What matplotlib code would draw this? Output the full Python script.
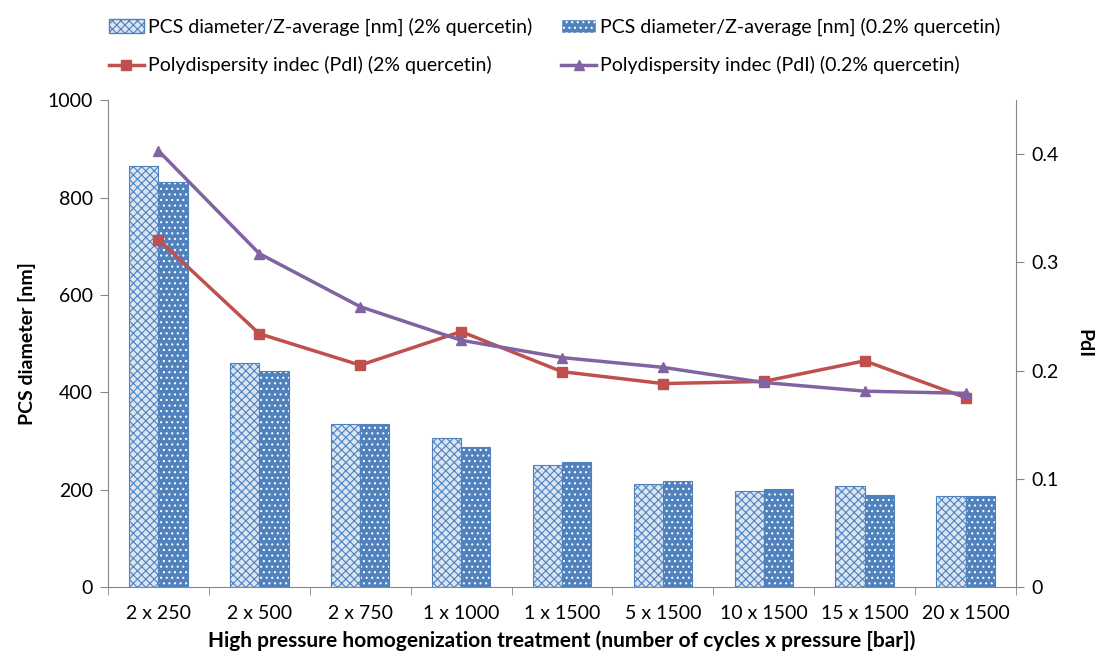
import matplotlib
matplotlib.use("Agg")
import matplotlib.pyplot as plt
import numpy as np
from matplotlib.patches import Patch
from matplotlib.lines import Line2D

plt.rcParams["font.family"] = ["Lato", "DejaVu Sans"]
plt.rcParams["hatch.linewidth"] = 0.8

categories = ["2 x 250", "2 x 500", "2 x 750", "1 x 1000", "1 x 1500",
              "5 x 1500", "10 x 1500", "15 x 1500", "20 x 1500"]
size_2pct = [864, 460, 335, 307, 250, 212, 197, 207, 187]
size_02pct = [832, 444, 335, 287, 256, 219, 201, 190, 187]
pdi_2pct = [0.321, 0.234, 0.205, 0.236, 0.199, 0.188, 0.190, 0.209, 0.175]
pdi_02pct = [0.403, 0.308, 0.259, 0.228, 0.212, 0.203, 0.189, 0.181, 0.179]

BLUE = "#4f81bd"
LIGHT = "#dbe5f1"
RED = "#c0504d"
PURPLE = "#8064a2"
GREY = "#868686"
FS = 14

fig = plt.figure(figsize=(11.02, 6.59), dpi=100)
ax = fig.add_axes([0.098, 0.109, 0.824, 0.739])
ax2 = ax.twinx()

x = np.arange(len(categories))
w = 0.29
# light bars: crosshatch in blue over pale fill
ax.bar(x - w / 2, size_2pct, w, color=LIGHT, edgecolor=BLUE, hatch="xxxx", lw=0.8, zorder=2)
# dark bars: blue with white dots
ax.bar(x + w / 2, size_02pct, w, color=BLUE, edgecolor="white", hatch="...", lw=0, zorder=2)
ax.bar(x + w / 2, size_02pct, w, fill=False, edgecolor=BLUE, lw=0.8, zorder=3)

ax2.plot(x, pdi_2pct, color=RED, lw=2.5, marker="s", ms=7, zorder=4)
ax2.plot(x, pdi_02pct, color=PURPLE, lw=2.5, marker="^", ms=7, zorder=4)

ax.set_xlim(-0.5, len(categories) - 0.5)
ax.set_ylim(0, 1000)
ax2.set_ylim(0, 0.4497)
ax.set_yticks(range(0, 1001, 200))
ax2.set_yticks([0, 0.1, 0.2, 0.3, 0.4])
ax2.set_yticklabels(["0", "0.1", "0.2", "0.3", "0.4"])

ax.set_xticks(x)
ax.set_xticklabels(categories)
ax.set_xticks(np.arange(-0.5, len(categories)), minor=True)
ax.tick_params(axis="x", which="major", length=0, pad=13, labelsize=FS)
ax.tick_params(axis="x", which="minor", length=6, color=GREY, direction="out")
ax.tick_params(axis="y", length=6, color=GREY, labelsize=FS, pad=5)
ax2.tick_params(axis="y", length=6, color=GREY, labelsize=FS, pad=5)

for a in (ax, ax2):
    a.spines["top"].set_visible(False)
    for s in ("left", "right", "bottom"):
        a.spines[s].set_color(GREY)
ax.spines["right"].set_visible(False)
ax2.spines["left"].set_visible(False)
ax2.spines["bottom"].set_visible(False)

ax.set_ylabel("PCS diameter [nm]", fontsize=FS, fontweight="bold", labelpad=8)
ax2.set_ylabel("PdI", fontsize=FS, fontweight="bold", rotation=-90, labelpad=24)
ax.set_xlabel("High pressure homogenization treatment (number of cycles x pressure [bar])",
              fontsize=15, fontweight="bold", labelpad=6)

handles = [
    Patch(facecolor=LIGHT, edgecolor=BLUE, hatch="xxxx"),
    Patch(facecolor=BLUE, edgecolor="white", hatch="..."),
    Line2D([], [], color=RED, lw=2.5, marker="s", ms=7),
    Line2D([], [], color=PURPLE, lw=2.5, marker="^", ms=7),
]
labels = [
    "PCS diameter/Z-average [nm] (2% quercetin)",
    "PCS diameter/Z-average [nm] (0.2% quercetin)",
    "Polydispersity indec (PdI) (2% quercetin)",
    "Polydispersity indec (PdI) (0.2% quercetin)",
]
# reorder so that columns are filled correctly (bars on first row)
order = [0, 2, 1, 3]
fig.legend([handles[i] for i in order], [labels[i] for i in order], ncol=2,
           loc="upper left", bbox_to_anchor=(0.083, 1.0), frameon=False,
           fontsize=FS, handlelength=1.8, handletextpad=0.2,
           columnspacing=1.5, labelspacing=1.05)

fig.savefig("out.png", dpi=100)
